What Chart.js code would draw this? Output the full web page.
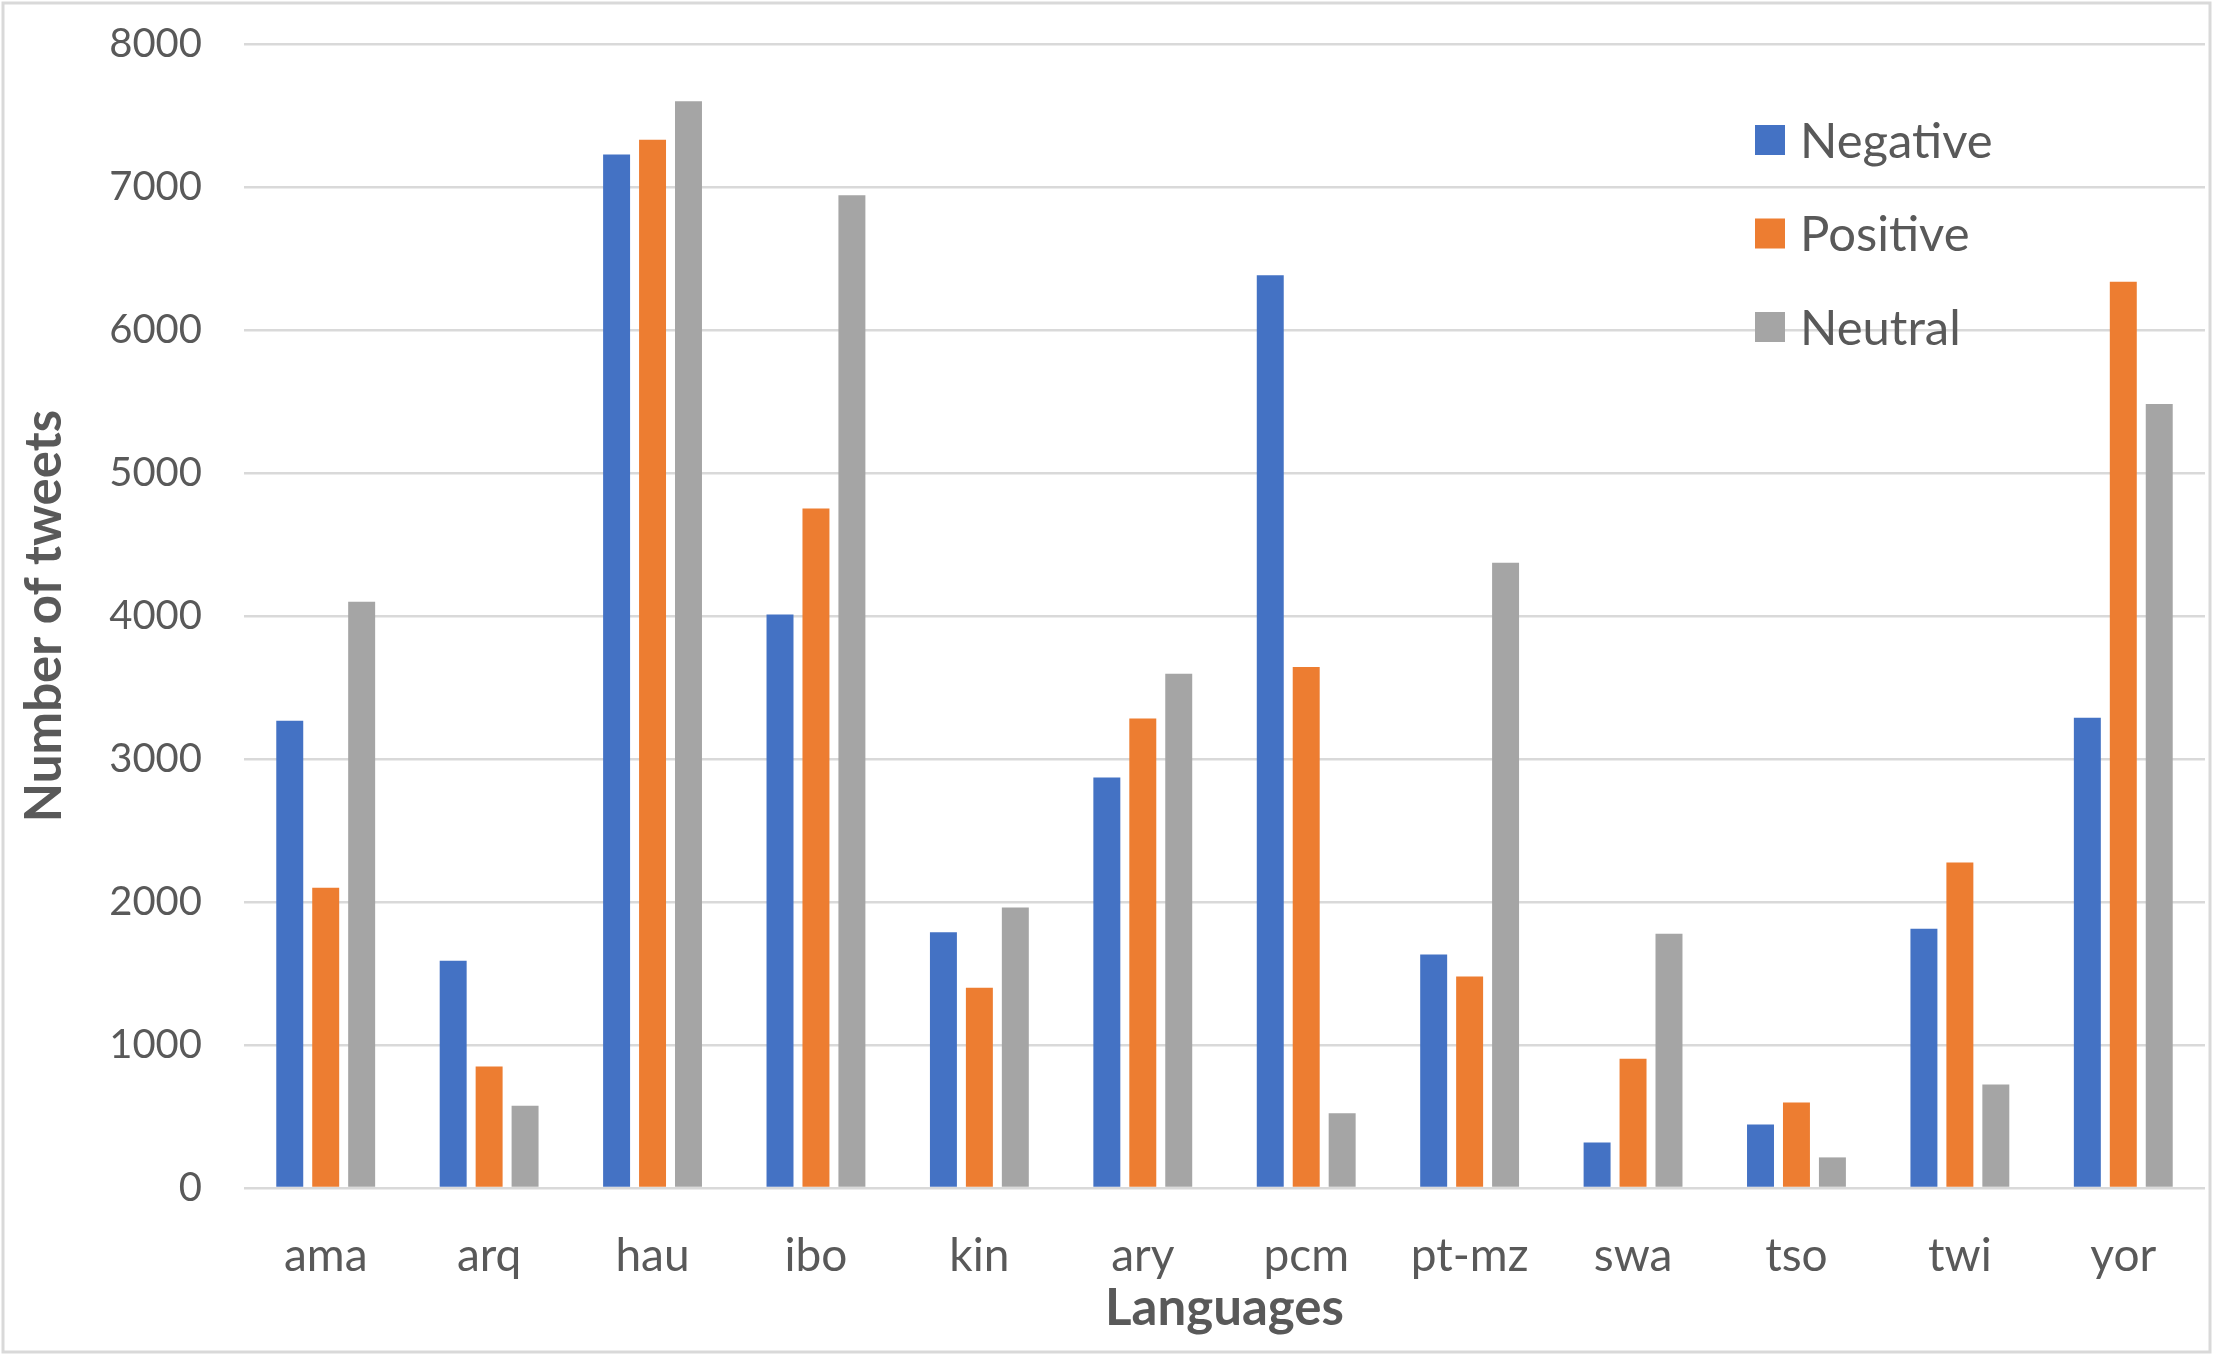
<!DOCTYPE html>
<html>
<head>
<meta charset="utf-8">
<script src="https://cdn.jsdelivr.net/npm/chart.js@4.4.1/dist/chart.umd.min.js"></script>
<style>
  html, body { margin: 0; padding: 0; background: #fff; }
  #wrap { width: 2213px; height: 1356px; position: relative; }
</style>
</head>
<body>
<div id="wrap"><canvas id="tweetChart"></canvas></div>
<script>
const languages = ['ama', 'arq', 'hau', 'ibo', 'kin', 'ary', 'pcm', 'pt-mz', 'swa', 'tso', 'twi', 'yor'];
const negative = [3267, 1590, 7228, 4010, 1789, 2870, 6382, 1632, 318, 444, 1813, 3289];
const positive = [2100, 850, 7331, 4752, 1400, 3284, 3644, 1479, 903, 598, 2276, 6338];
const neutral = [4100, 575, 7600, 6943, 1962, 3597, 522, 4372, 1778, 214, 724, 5483];
const yTicks = [0, 1000, 2000, 3000, 4000, 5000, 6000, 7000, 8000];

const textColor = '#595959';
const fontFamily = 'Lato, "Open Sans", sans-serif';

// legend drawn inside the plot, top right, like the Excel original
const sideLegend = {
    id: 'sideLegend',
    afterDraw(chart) {
        const ctx = chart.ctx;
        ctx.save();
        ctx.font = '49px ' + fontFamily;
        ctx.textBaseline = 'middle';
        chart.data.datasets.forEach((ds, i) => {
            const y = 140 + i * 93.5;
            ctx.fillStyle = ds.backgroundColor;
            ctx.fillRect(1755, y - 15, 30, 30);
            ctx.fillStyle = textColor;
            ctx.fillText(ds.label, 1800, y + 2);
        });
        ctx.restore();
    }
};

const frame = {
    id: 'frame',
    beforeDraw(chart) {
        const ctx = chart.ctx;
        ctx.save();
        ctx.fillStyle = '#ffffff';
        ctx.fillRect(0, 0, chart.width, chart.height);
        ctx.strokeStyle = '#d9d9d9';
        ctx.lineWidth = 3;
        ctx.strokeRect(3, 3, chart.width - 6, chart.height - 7);
        ctx.restore();
    }
};

const ctx = document.getElementById('tweetChart').getContext('2d');

const chart = new Chart(ctx, {
    type: 'bar',
    data: {
        labels: languages,
        datasets: [
            { label: 'Negative', data: negative, backgroundColor: '#4472c4' },
            { label: 'Positive', data: positive, backgroundColor: '#ed7d31' },
            { label: 'Neutral', data: neutral, backgroundColor: '#a5a5a5' }
        ]
    },
    options: {
        responsive: true,
        maintainAspectRatio: false,
        animation: false,
        layout: { padding: { top: 44, right: 8, bottom: 0, left: 0 } },
        datasets: {
            bar: { categoryPercentage: 0.66, barPercentage: 0.75 }
        },
        plugins: {
            legend: { display: false },
            tooltip: { enabled: false }
        },
        scales: {
            x: {
                grid: { display: false },
                border: { display: false },
                ticks: {
                    color: textColor,
                    font: { family: fontFamily, size: 46 },
                    padding: 33,
                    maxRotation: 0
                },
                title: {
                    display: true,
                    text: 'Languages',
                    color: textColor,
                    font: { family: fontFamily, size: 51, weight: 'bold' },
                    padding: { top: 0, bottom: 17 }
                },
                afterFit(scale) { scale.height = 168; }
            },
            y: {
                min: 0,
                max: 8000,
                afterBuildTicks(scale) {
                    scale.ticks = yTicks.map(v => ({ value: v }));
                },
                grid: { color: '#d9d9d9', lineWidth: 2.5, drawTicks: false },
                border: { display: false },
                ticks: {
                    color: textColor,
                    font: { family: fontFamily, size: 40 },
                    padding: 42,
                    callback: v => String(v)
                },
                title: {
                    display: true,
                    text: 'Number of tweets',
                    color: textColor,
                    font: { family: fontFamily, size: 51, weight: 'bold' },
                    padding: { top: 14, bottom: 0 }
                },
                afterFit(scale) {
                    scale.width = 244;
                    // tick padding should not push the plot down
                    scale.paddingTop = 0;
                    scale.paddingBottom = 0;
                }
            }
        }
    },
    plugins: [frame, sideLegend]
});
</script>
</body>
</html>
